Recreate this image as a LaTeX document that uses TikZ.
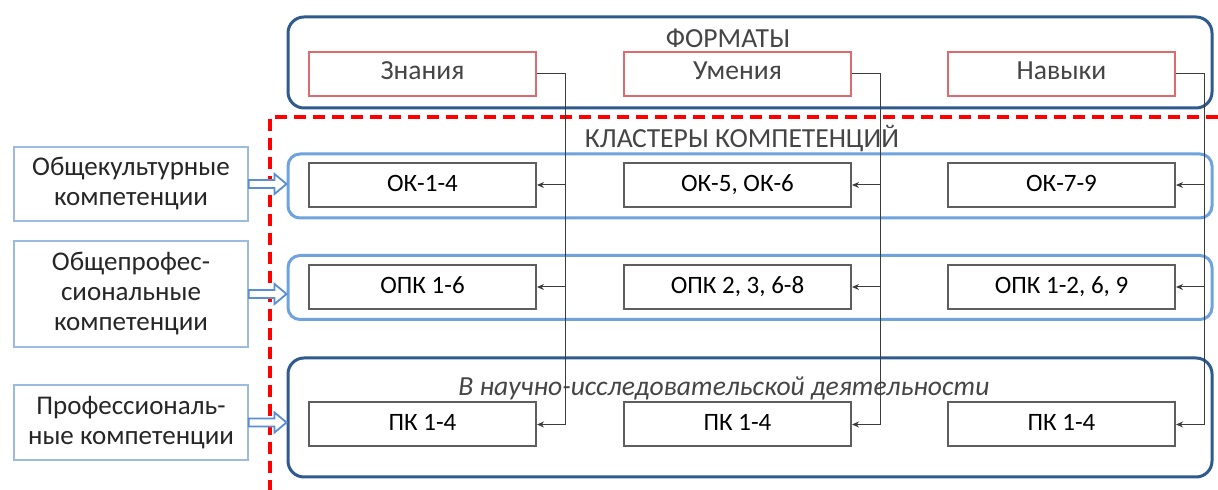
\documentclass[tikz,border=0pt]{standalone}
\usepackage{fontspec}
\setmainfont{Carlito}
\usepackage{xcolor}
\usetikzlibrary{arrows.meta,calc}

\definecolor{frameblue}{HTML}{2F5A8E}
\definecolor{rowblue}{HTML}{6FA3DE}
\definecolor{sideblue}{HTML}{9DBBE0}
\definecolor{arrowblue}{HTML}{5A8ED2}
\definecolor{fmtred}{HTML}{DE6A6E}
\definecolor{boxgray}{HTML}{5E5E5E}
\definecolor{linkgray}{HTML}{3C3C3C}
\definecolor{txtgray}{HTML}{454545}

\tikzset{
	txt/.style={font=\fontsize{12.5}{15}\selectfont},
	bigtxt/.style={font=\fontsize{13.8}{15}\selectfont},
	fmtbox/.style={bigtxt,draw=fmtred,line width=0.7pt,minimum width=113.5pt,minimum height=22pt,text=txtgray,inner sep=0pt,text height=9pt,text depth=3pt},
	compbox/.style={txt,draw=boxgray,line width=1pt,minimum width=113.5pt,minimum height=22pt,inner sep=0pt,text height=9pt,text depth=2.5pt},
	sidebox/.style={font=\fontsize{13.5}{15}\selectfont,draw=sideblue,line width=0.8pt,minimum width=117pt,align=center,text=black!85,inner sep=0pt},
	bigframe/.style={draw=frameblue,line width=1.5pt,rounded corners=8pt,minimum width=462pt,inner sep=0pt},
	rowframe/.style={draw=rowblue,line width=1.5pt,rounded corners=6pt,minimum width=462pt,minimum height=32pt,inner sep=0pt},
	link/.style={draw=linkgray,line width=0.5pt},
	linkarrow/.style={link,-{Stealth[length=3.5pt,width=3pt]}},
	blkarrow/.style={draw=arrowblue,line width=0.9pt,fill=white,line join=miter},
	reddash/.style={draw=red,line width=2pt,dash pattern=on 6pt off 3.5pt}
}

\begin{document}
\begin{tikzpicture}[x=0.5pt,y=-0.5pt]
			\useasboundingbox[fill=white] (0,0) rectangle (1218,490);

			\draw[reddash] (1218,117) -- (270,117) -- (270,490);

			\node[bigframe,minimum height=45.5pt] (formats) at (750,62.5) {};
			\node[bigtxt,text=txtgray] (formatstitle) at (728,38) {ФОРМАТЫ};
			\node[fmtbox] (zn) at (422.5,74) {Знания};
			\node[fmtbox] (um) at (737.5,74) {Умения};
			\node[fmtbox] (nv) at (1061.5,74) {Навыки};

			\node[bigtxt,text=txtgray] (clusters) at (742,139) {КЛАСТЕРЫ КОМПЕТЕНЦИЙ};

			\node[rowframe] (okrow) at (750,186) {};
			\node[compbox] (ok1) at (422.5,185) {ОК-1-4};
			\node[compbox] (ok2) at (737.5,185) {ОК-5, ОК-6};
			\node[compbox] (ok3) at (1061.5,185) {ОК-7-9};

			\node[rowframe] (opkrow) at (750,287.5) {};
			\node[compbox] (opk1) at (422.5,287) {ОПК 1-6};
			\node[compbox] (opk2) at (737.5,287) {ОПК 2, 3, 6-8};
			\node[compbox] (opk3) at (1061.5,287) {ОПК 1-2, 6, 9};

			\node[bigframe,minimum height=59.5pt] (pkrow) at (750,417.5) {};
			\node[text=txtgray,font={\fontsize{13.8}{15}\selectfont\itshape}] (research) at (724,388) {В научно-исследовательской деятельности};
			\node[compbox] (pk1) at (422.5,424.5) {ПК 1-4};
			\node[compbox] (pk2) at (737.5,424.5) {ПК 1-4};
			\node[compbox] (pk3) at (1061.5,424.5) {ПК 1-4};

			\node[sidebox,minimum height=37pt] (gen) at (131,184) {Общекультурные\\компетенции};
			\node[sidebox,minimum height=53pt] (genprof) at (131,294) {Общепрофес-\\сиональные\\компетенции};
			\node[sidebox,minimum height=37.5pt] (prof) at (131,422.5) {Профессиональ-\\ные компетенции};

			\coordinate (tzn) at (565,0);
			\coordinate (tum) at (880,0);
			\coordinate (tnv) at (1204,0);

			\draw[linkarrow] (zn.east) -| (tzn |- pk1.east) -- (pk1.east);
			\draw[linkarrow] (tzn |- ok1.east) -- (ok1.east);
			\draw[linkarrow] (tzn |- opk1.east) -- (opk1.east);

			\draw[linkarrow] (um.east) -| (tum |- pk2.east) -- (pk2.east);
			\draw[linkarrow] (tum |- ok2.east) -- (ok2.east);
			\draw[linkarrow] (tum |- opk2.east) -- (opk2.east);

			\draw[linkarrow] (nv.east) -| (tnv |- pk3.east) -- (pk3.east);
			\draw[linkarrow] (tnv |- ok3.east) -- (ok3.east);
			\draw[linkarrow] (tnv |- opk3.east) -- (opk3.east);

			\foreach \src/\dst in {gen/okrow,genprof/opkrow,prof/pkrow}
			{
				\draw[blkarrow] ($(\src.east)+(0,-4)$) -- ($(\src.east -| \dst.west)+(-12,-4)$) -- ++(0,-6)
					-- (\src.east -| \dst.west) -- ($(\src.east -| \dst.west)+(-12,10)$) -- ++(0,-6)
					-- ($(\src.east)+(0,4)$) -- cycle;
			}
		\end{tikzpicture}
\end{document}
